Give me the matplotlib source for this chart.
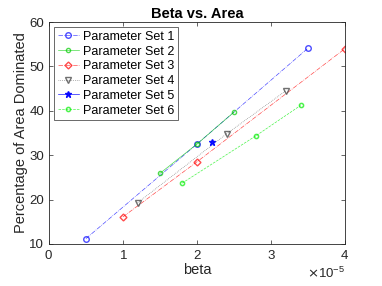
import matplotlib
matplotlib.use("Agg")
import matplotlib.pyplot as plt
from matplotlib.ticker import ScalarFormatter

plt.rcParams['font.family'] = ['Liberation Sans', 'DejaVu Sans']

labels = ["Parameter Set 1", "Parameter Set 2", "Parameter Set 3",
          "Parameter Set 4", "Parameter Set 5", "Parameter Set 6"]
beta1 = [0.5e-5, 2.0e-5, 3.5e-5]
area1 = [11.2, 32.5, 54.1]
beta2 = [1.5e-5, 2.0e-5, 2.5e-5]
area2 = [25.9, 32.5, 39.7]
beta3 = [1.0e-5, 2.0e-5, 4.0e-5]
area3 = [16.1, 28.5, 54.0]
beta4 = [1.2e-5, 2.4e-5, 3.2e-5]
area4 = [19.3, 34.8, 44.5]
beta5 = [2.2e-5]
area5 = [32.9]
beta6 = [1.8e-5, 2.8e-5, 3.4e-5]
area6 = [23.7, 34.4, 41.2]

fig = plt.figure(figsize=(3.82, 2.86), dpi=100)
ax = fig.add_axes([0.128, 0.147, 0.775, 0.776])

lw = 0.5
ms = 4
a = 0.7
ax.plot(beta1, area1, color='#0000ff', ls='-.', marker='o', mfc='none', ms=ms, lw=lw, alpha=a, label=labels[0])
ax.plot(beta2, area2, color='#00cc00', ls='-', marker='o', mfc='none', ms=3, lw=lw, alpha=a, label=labels[1])
ax.plot(beta3, area3, color='#ff0000', ls='-.', marker='D', mfc='none', ms=3.5, lw=lw, alpha=a, label=labels[2])
ax.plot(beta4, area4, color='#333333', ls=':', marker='v', mfc='none', ms=ms, lw=lw, alpha=a, label=labels[3])
ax.plot(beta5, area5, color='#0000ff', ls='-', marker='*', ms=5, lw=lw, alpha=0.9, label=labels[4])
ax.plot(beta6, area6, color='#00ee00', ls='--', marker='o', mfc='none', ms=3, mew=1.1, lw=lw, alpha=a, label=labels[5])

ax.set_xlim(0, 4e-5)
ax.set_ylim(10, 60)
ax.set_xticks([0, 1e-5, 2e-5, 3e-5, 4e-5])
ax.set_yticks([10, 20, 30, 40, 50, 60])
fmt = ScalarFormatter(useMathText=True)
fmt.set_powerlimits((0, 0))
ax.xaxis.set_major_formatter(fmt)
ax.tick_params(direction='in', top=True, right=True, labelsize=9.5, colors='#262626', length=3, width=0.5)
for s in ax.spines.values():
    s.set_linewidth(0.6)
    s.set_color('#262626')
ax.xaxis.get_offset_text().set_fontsize(9.5)
ax.set_title("Beta vs. Area", fontsize=10.5, fontweight='bold', pad=3)
ax.set_xlabel("beta", fontsize=10.5, color='#262626', labelpad=1)
ax.set_ylabel("Percentage of Area Dominated", fontsize=10.5, color='#262626', labelpad=1)

leg = ax.legend(loc='upper left', fontsize=9, frameon=True, fancybox=False,
                edgecolor='#262626', handlelength=1.7, borderpad=0.3, labelspacing=0.22,
                handletextpad=0.3, borderaxespad=0.4)
leg.get_frame().set_linewidth(0.6)

fig.savefig("out.png", dpi=100)
